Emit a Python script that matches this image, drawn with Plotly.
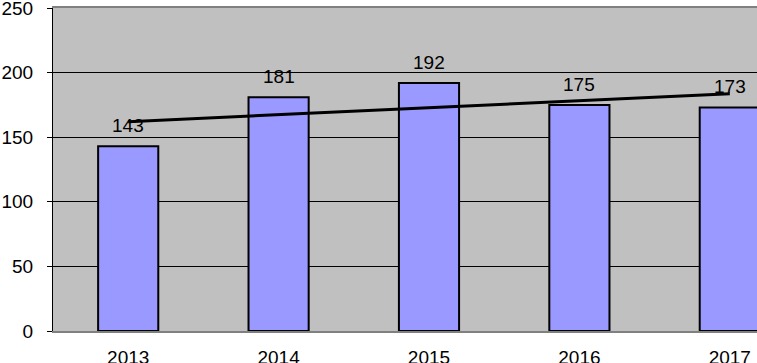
import plotly.graph_objects as go

years = ["2013", "2014", "2015", "2016", "2017"]
values = [143, 181, 192, 175, 173]
y_ticks = [0, 50, 100, 150, 200, 250]

# linear trendline (least squares) computed from the values
n = len(values)
xs = list(range(n))
mx = sum(xs) / n
my = sum(values) / n
slope = sum((x - mx) * (v - my) for x, v in zip(xs, values)) / sum((x - mx) ** 2 for x in xs)
intercept = my - slope * mx
trend = [intercept + slope * x for x in xs]

FONT = "Liberation Sans, Arial, sans-serif"
FS = 19

fig = go.Figure()
fig.add_trace(go.Bar(
    x=xs, y=values,
    marker=dict(color="#9999FF", line=dict(color="black", width=2)),
    hoverinfo="skip",
))
fig.add_trace(go.Scatter(
    x=[xs[0], xs[-1]], y=[trend[0], trend[-1]],
    mode="lines", line=dict(color="black", width=3),
    hoverinfo="skip",
))

for x, v in zip(xs, values):
    fig.add_annotation(x=x, y=v, text=str(v), showarrow=False,
                       yanchor="bottom", yshift=8,
                       font=dict(family=FONT, size=FS, color="black"))

fig.update_layout(
    width=757, height=363,
    margin=dict(l=53, r=0, t=8, b=32, autoexpand=False),
    paper_bgcolor="white",
    plot_bgcolor="#C0C0C0",
    showlegend=False,
    bargap=0.6,
    font=dict(family=FONT, size=FS, color="black"),
)
fig.update_xaxes(
    range=[-0.5, -0.5 + 704 / 150.4],
    tickmode="array", tickvals=xs, ticktext=years,
    showgrid=False, zeroline=False, automargin=False,
    showline=True, linecolor="#808080", linewidth=2, mirror=True,
    ticks="", ticklabelstandoff=8, ticklabeloverflow="allow",
    tickfont=dict(family=FONT, size=FS, color="black"),
)
fig.update_yaxes(
    range=[0, 250],
    tickmode="array", tickvals=y_ticks,
    showgrid=True, gridcolor="black", gridwidth=1,
    zeroline=False, automargin=False,
    showline=True, linecolor="black", linewidth=1,
    ticks="outside", ticklen=5, tickcolor="black", tickwidth=1,
    ticklabelstandoff=10, ticklabeloverflow="allow",
    tickfont=dict(family=FONT, size=FS, color="black"),
)

fig.write_html("out.html",
               config={"displayModeBar": False},
               post_script="document.body.style.margin='0';document.body.style.overflow='hidden';")
